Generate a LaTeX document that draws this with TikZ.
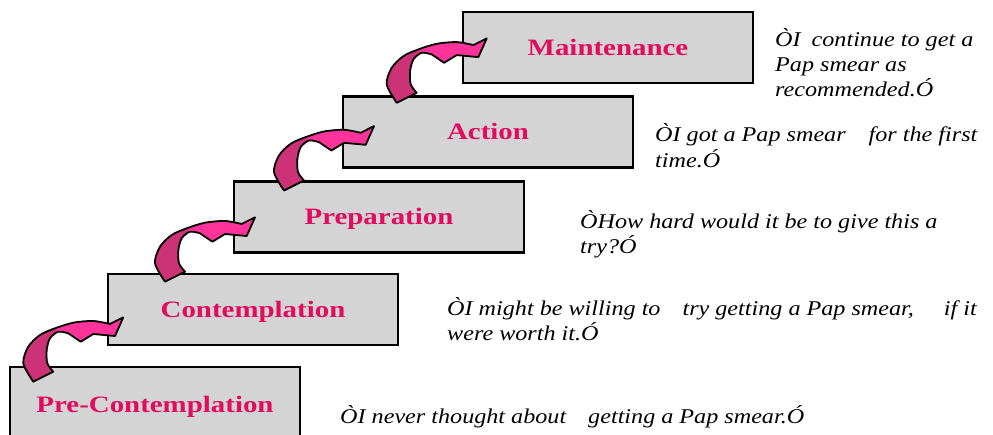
\documentclass[tikz,border=0pt]{standalone}
\usepackage{fontspec}
\usepackage{tikz}
\usetikzlibrary{calc}
\newfontfamily\stagefont[FakeStretch=1.23]{Liberation Serif}
\newfontfamily\sayfont[FakeStretch=1.15]{Liberation Serif}
\definecolor{boxgray}{RGB}{212,212,212}
\definecolor{stagered}{RGB}{226,12,94}
\definecolor{arrowpink}{RGB}{255,51,153}
\definecolor{arrowdark}{RGB}{204,51,119}
\newcommand{\arrowshape}{plot[smooth] coordinates {(0,0) (-10,-18.4) (-5,-35) (6.7,-46.7) (21.7,-53.4) (40,-59) (60,-60.7) (76.7,-57.7)} -- (90,-64.4) -- (81.7,-45.7) -- (60,-47.7) -- (47.4,-40) -- plot[smooth] coordinates {(35,-48.4) (25,-50) (16.7,-43.4) (13.4,-31.7) (14,-18.4) (20,-10)} -- cycle}
\newcommand{\saylines}[1]{\begin{tabular}[t]{@{}l@{}}#1\end{tabular}}
\tikzset{
  stage/.style={draw=black,line width=2.5pt,fill=boxgray,minimum width=290pt,minimum height=71pt,inner sep=0pt,outer sep=0pt,text height=15.5pt,text depth=0pt,text=stagered,font=\stagefont\bfseries\fontsize{23.5}{28}\selectfont},
  saying/.style={anchor=base west,inner sep=0pt,font=\sayfont\itshape\fontsize{21}{24.5}\selectfont},
  stairarrow/.pic={
    \fill[arrowpink] \arrowshape;
    \begin{scope}
      \clip \arrowshape;
      \fill[arrowdark] (-25,10) -- (-25,-70) -- (19,-70) -- (24,-45) -- (40,0) -- cycle;
    \end{scope}
    \draw[line width=1.8pt,line join=round] \arrowshape;
  }
}
\begin{document}
\begin{tikzpicture}[x=1pt,y=-1pt]
\clip (0,0) rectangle (993,434);
\node[stage,minimum height=76pt] (pre) at (155,405) {Pre-Contemplation};
\node[stage] (contemp) at (253,309.5) {Contemplation};
\node[stage] (prep) at (379,217) {Preparation};
\node[stage] (action) at (488,132) {Action};
\node[stage] (maint) at (608,47.5) {Maintenance};
\foreach \lo/\dx/\dy in {pre/23.3/14.7,contemp/57/7.7,prep/50/9,action/53.7/6.3}
  \pic at ($(\lo.north west)+(\dx,\dy)$) {stairarrow};
\node[saying] (saypre) at (340,423) {ÒI never thought about\hspace{22pt}getting a Pap smear.Ó};
\node[saying] (saycontemp) at (447,315.5) {\saylines{ÒI might be willing to\hspace{22pt}try getting a Pap smear,\hspace{30pt}if it\\were worth it.Ó}};
\node[saying] (sayprep) at (580,228) {\saylines{ÒHow hard would it be to give this a\\try?Ó}};
\node[saying] (sayaction) at (655,141.7) {\saylines{ÒI got a Pap smear\hspace{23pt}for the first\\time.Ó}};
\node[saying] (saymaint) at (775,46.5) {\saylines{ÒI\hspace{11pt}continue to get a\\Pap smear as\\recommended.Ó}};
\end{tikzpicture}
\end{document}
